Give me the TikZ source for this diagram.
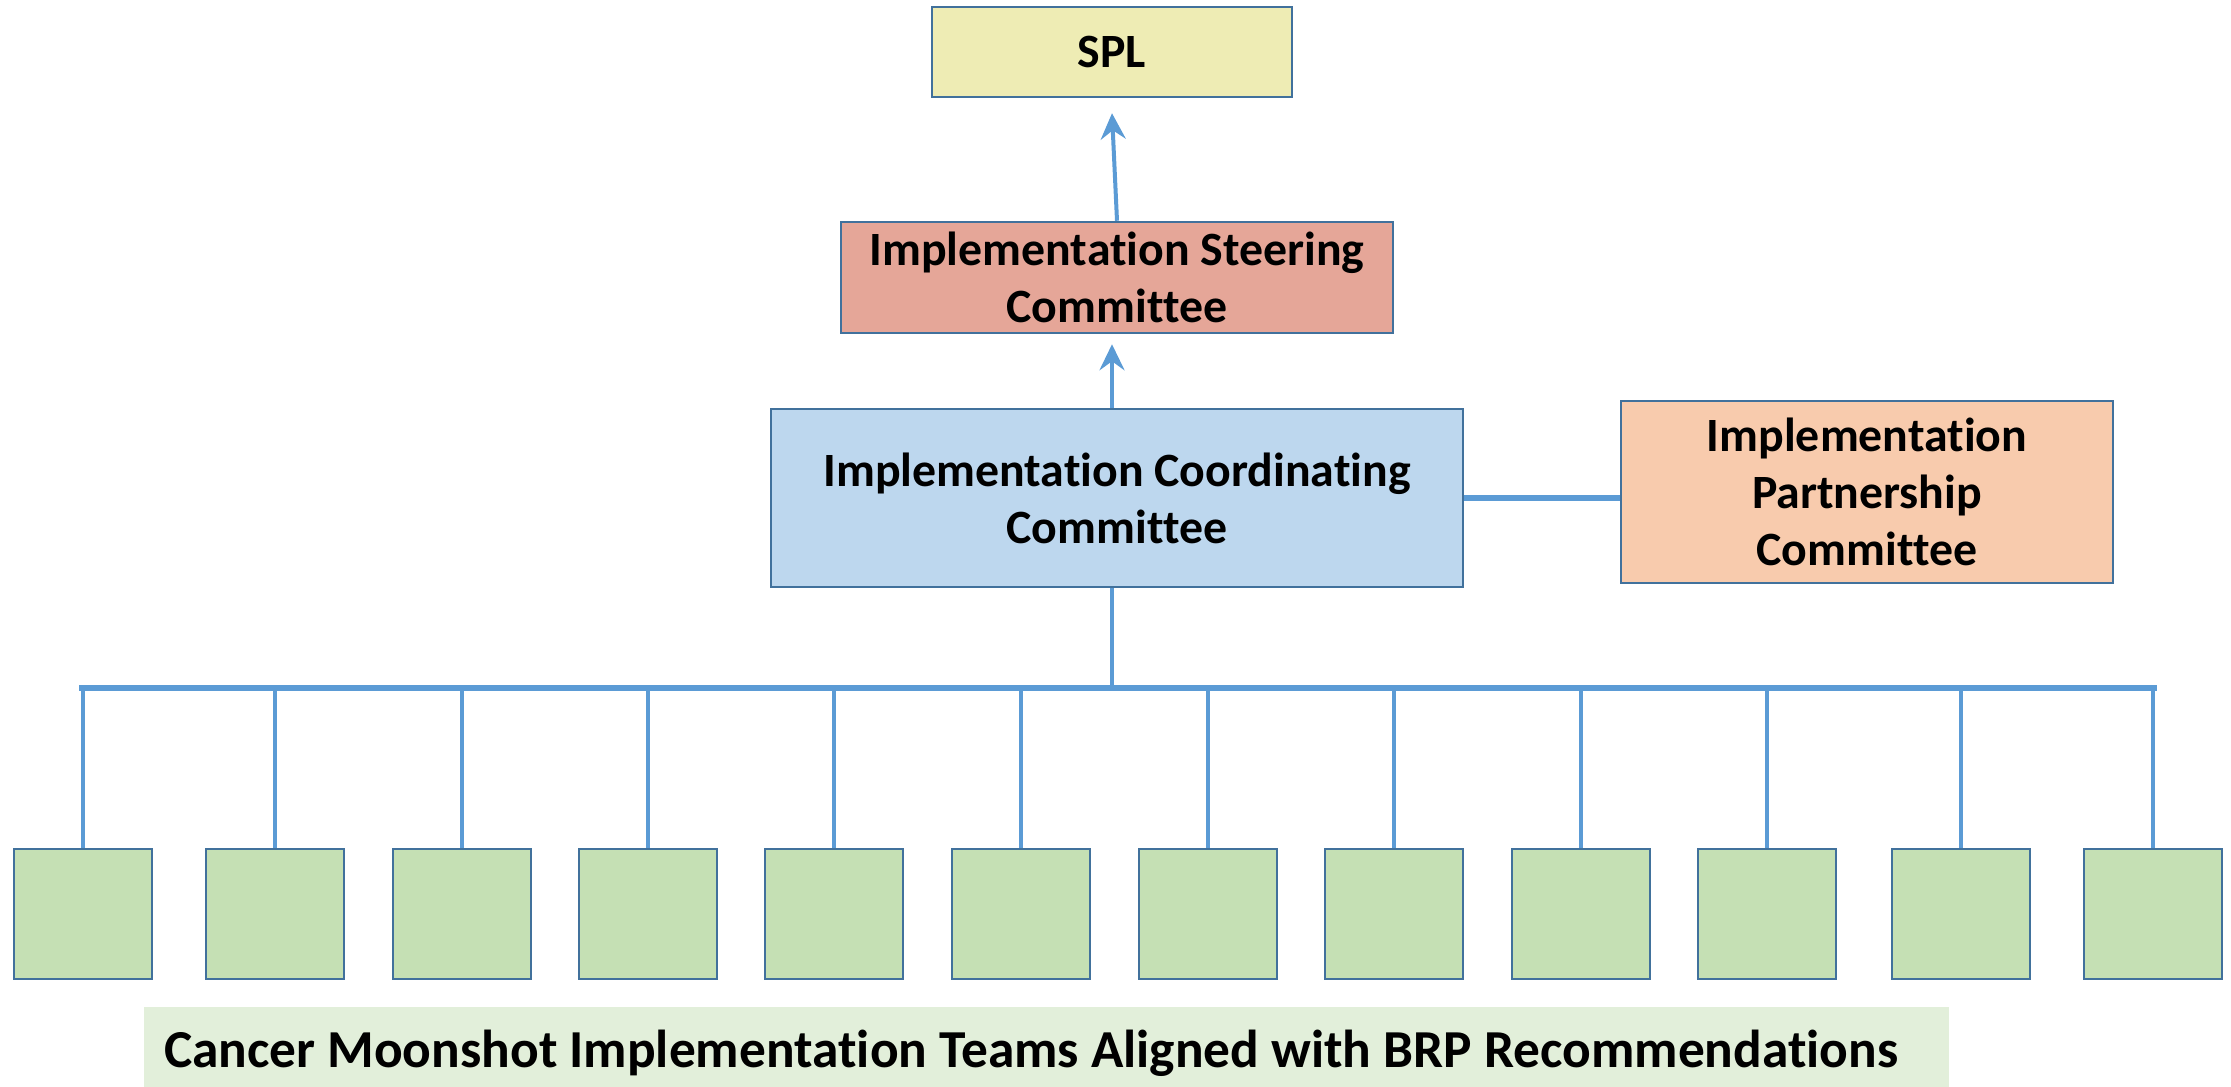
\documentclass[tikz,border=0pt]{standalone}
\usepackage{fontspec}
\setmainfont{Carlito}[Ligatures=NoCommon]
\usetikzlibrary{arrows.meta}
\definecolor{bordc}{HTML}{41719C}
\definecolor{linec}{HTML}{5B9BD5}
\definecolor{splc}{HTML}{EEECB4}
\definecolor{steerc}{HTML}{E5A698}
\definecolor{iccc}{HTML}{BDD7EE}
\definecolor{ipcc}{HTML}{F8CBAD}
\definecolor{teamc}{HTML}{C5E0B4}
\definecolor{labc}{HTML}{E2EFDA}
\begin{document}
\begin{tikzpicture}[x=1pt,y=-1pt,
 box/.style={draw=bordc, line width=2.5pt, rectangle, align=center, inner sep=0pt, font=\fontsize{47.8}{57}\selectfont\bfseries},
 team/.style={draw=bordc, line width=2.5pt, fill=teamc, minimum width=138pt, minimum height=130pt, inner sep=0pt},
 conn/.style={draw=linec, line width=4pt},
 bus/.style={draw=linec, line width=5.5pt},
 arr/.style={draw=linec, line width=4pt, -{Stealth[length=26pt,width=25pt,inset=9pt]}}
]
\useasboundingbox (0,0) rectangle (2231,1087);
\node[box, fill=splc, minimum width=360pt, minimum height=90pt] (spl) at (1112,52) {SPL};
\node[box, fill=steerc, minimum width=552pt, minimum height=111pt] (steer) at (1117,277.5) {Implementation Steering\\Committee};
\node[box, fill=iccc, minimum width=692pt, minimum height=178pt] (icc) at (1117,498) {Implementation Coordinating\\Committee};
\node[box, fill=ipcc, minimum width=492pt, minimum height=182pt] (ipc) at (1867,492) {Implementation\\Partnership\\Committee};
\foreach \i/\x in {1/83,2/275,3/462,4/648,5/834,6/1021,7/1208,8/1394,9/1581,10/1767,11/1961,12/2153}
  \node[team] (t\i) at (\x,914) {};
\coordinate (busY) at (0,688);
\draw[arr] (steer.north) -- ([yshift=-15pt]spl.south);
\draw[arr] ([xshift=-5pt]icc.north) -- ([xshift=-5pt,yshift=-10pt]steer.south);
\draw[bus] (icc.east) -- (icc.east -| ipc.west);
\draw[conn] ([xshift=-5pt]icc.south) -- ([xshift=-5pt]icc.south |- busY);
\draw[bus] ([xshift=-4pt]t1.north |- busY) -- ([xshift=4pt]t12.north |- busY);
\foreach \i in {1,...,12}
  \draw[conn] (t\i.north) -- (t\i.north |- busY);
\node[font=\fontsize{53.4}{60}\selectfont\bfseries, fill=labc, minimum width=1805pt, minimum height=80pt, text width=1765pt, inner xsep=20pt, inner ysep=0pt, text height=50pt, text depth=10pt, align=flush left] (lab) at (1046.5,1047) {Cancer Moonshot Implementation Teams Aligned with BRP Recommendations};
\end{tikzpicture}
\end{document}
